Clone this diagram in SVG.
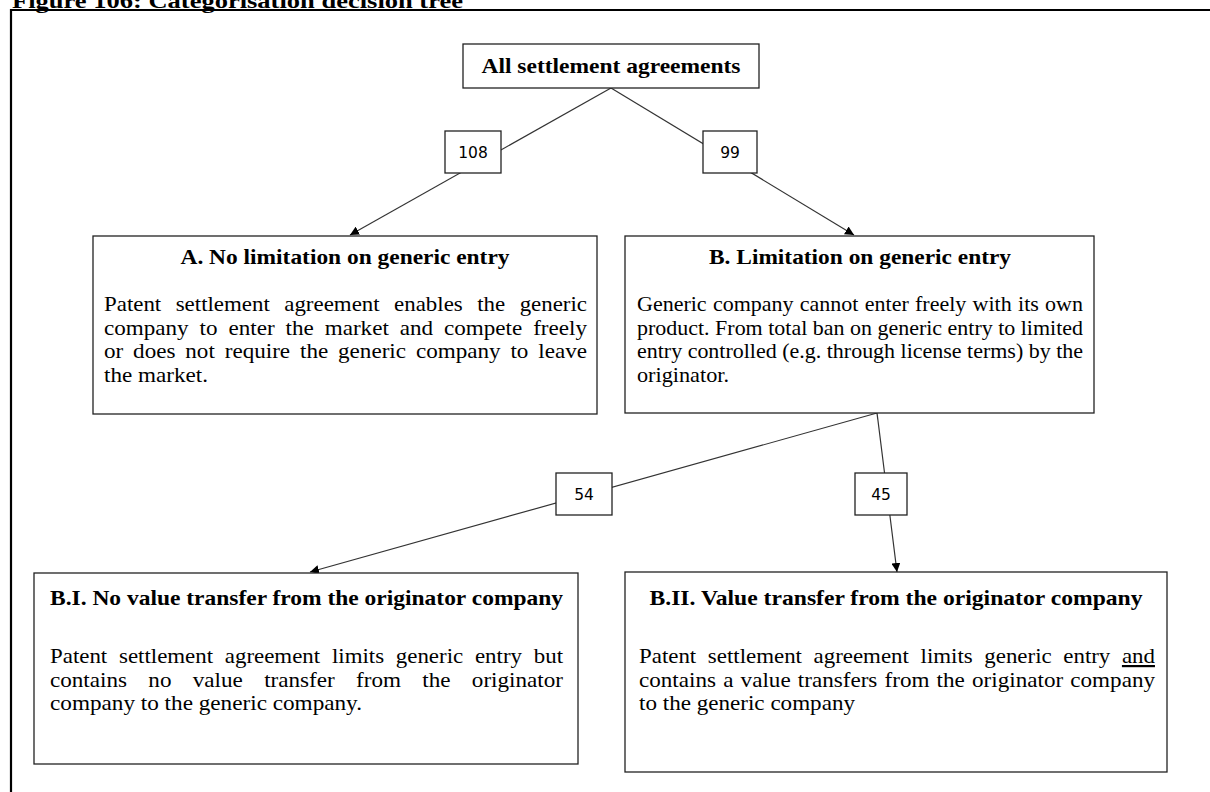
<svg xmlns="http://www.w3.org/2000/svg" width="1210" height="792" viewBox="0 0 1210 792">
<style>
.t{font-family:"Liberation Serif","Times New Roman",serif;font-size:22px;fill:#000}
.b{font-weight:bold}
.n{font-family:"DejaVu Sans","Liberation Sans",sans-serif;font-size:15.5px;fill:#000;text-anchor:middle}
.box{fill:#fff;stroke:#222;stroke-width:1.3}
.lbl{fill:#fff;stroke:#222;stroke-width:1.3}
.edge{fill:none;stroke:#333;stroke-width:1.2}
</style>
<defs>
<marker id="arr" viewBox="0 0 10 10" refX="10" refY="5" markerWidth="9" markerHeight="9" markerUnits="userSpaceOnUse" orient="auto">
<path d="M0,0 L10,5 L0,10 z" fill="#000"/>
</marker>
</defs>
<rect width="1210" height="792" fill="#fff"/>
<text class="t b" x="12" y="8" font-size="24" textLength="451" lengthAdjust="spacingAndGlyphs">Figure 106: Categorisation decision tree</text>
<path d="M11,792 V10 H1210" fill="none" stroke="#000" stroke-width="2.2"/>

<g id="connectors">
<line class="edge" x1="611" y1="88" x2="350" y2="235" marker-end="url(#arr)"/>
<line class="edge" x1="611" y1="88" x2="854" y2="235" marker-end="url(#arr)"/>
<line class="edge" x1="877" y1="413" x2="310" y2="572" marker-end="url(#arr)"/>
<line class="edge" x1="877" y1="413" x2="897" y2="572" marker-end="url(#arr)"/>
<g id="label-108"><rect class="lbl" x="445" y="131" width="56" height="42"/><text class="n" x="473" y="158">108</text></g>
<g id="label-99"><rect class="lbl" x="703" y="131" width="54" height="42"/><text class="n" x="730" y="158">99</text></g>
<g id="label-54"><rect class="lbl" x="556" y="473" width="56" height="42"/><text class="n" x="584" y="500">54</text></g>
<g id="label-45"><rect class="lbl" x="855" y="473" width="52" height="42"/><text class="n" x="881" y="500">45</text></g>
</g>

<g id="node-all">
<rect class="box" x="463" y="44" width="296" height="44"/>
<text class="t b" x="481.5" y="73" textLength="259" lengthAdjust="spacingAndGlyphs">All settlement agreements</text>
</g>

<g id="node-a">
<rect class="box" x="93" y="236" width="504" height="178"/>
<text class="t b" x="180.5" y="264" textLength="329" lengthAdjust="spacingAndGlyphs">A. No limitation on generic entry</text>
<text class="t" x="104" y="311" word-spacing="8.4" textLength="483" lengthAdjust="spacingAndGlyphs">Patent settlement agreement enables the generic</text>
<text class="t" x="104" y="334.5" word-spacing="4.9" textLength="483" lengthAdjust="spacingAndGlyphs">company to enter the market and compete freely</text>
<text class="t" x="104" y="358" word-spacing="3.9" textLength="483" lengthAdjust="spacingAndGlyphs">or does not require the generic company to leave</text>
<text class="t" x="104" y="381.5" textLength="104" lengthAdjust="spacingAndGlyphs">the market.</text>
</g>

<g id="node-b">
<rect class="box" x="625" y="236" width="469" height="177"/>
<text class="t b" x="709" y="264" textLength="302" lengthAdjust="spacingAndGlyphs">B. Limitation on generic entry</text>
<text class="t" x="637" y="311" word-spacing="0.8" textLength="446" lengthAdjust="spacingAndGlyphs">Generic company cannot enter freely with its own</text>
<text class="t" x="637" y="334.5" textLength="446" lengthAdjust="spacingAndGlyphs">product. From total ban on generic entry to limited</text>
<text class="t" x="637" y="358" textLength="446" lengthAdjust="spacingAndGlyphs">entry controlled (e.g. through license terms) by the</text>
<text class="t" x="637" y="381.5" textLength="92" lengthAdjust="spacingAndGlyphs">originator.</text>
</g>

<g id="node-bi">
<rect class="box" x="34" y="573" width="544" height="191"/>
<text class="t b" x="50" y="605" textLength="513" lengthAdjust="spacingAndGlyphs">B.I. No value transfer from the originator company</text>
<text class="t" x="50" y="663" word-spacing="5.8" textLength="513" lengthAdjust="spacingAndGlyphs">Patent settlement agreement limits generic entry but</text>
<text class="t" x="50" y="686.5" word-spacing="14.8" textLength="513" lengthAdjust="spacingAndGlyphs">contains no value transfer from the originator</text>
<text class="t" x="50" y="710" textLength="312" lengthAdjust="spacingAndGlyphs">company to the generic company.</text>
</g>

<g id="node-bii">
<rect class="box" x="625" y="572" width="542" height="200"/>
<text class="t b" x="649.5" y="605" textLength="493" lengthAdjust="spacingAndGlyphs">B.II. Value transfer from the originator company</text>
<text class="t" x="639" y="663" word-spacing="5.65" textLength="516" lengthAdjust="spacingAndGlyphs">Patent settlement agreement limits generic entry <tspan text-decoration="underline">and</tspan></text>
<text class="t" x="639" y="686.5" word-spacing="1.34" textLength="516" lengthAdjust="spacingAndGlyphs">contains a value transfers from the originator company</text>
<text class="t" x="639" y="710" textLength="216" lengthAdjust="spacingAndGlyphs">to the generic company</text>
</g>
</svg>
